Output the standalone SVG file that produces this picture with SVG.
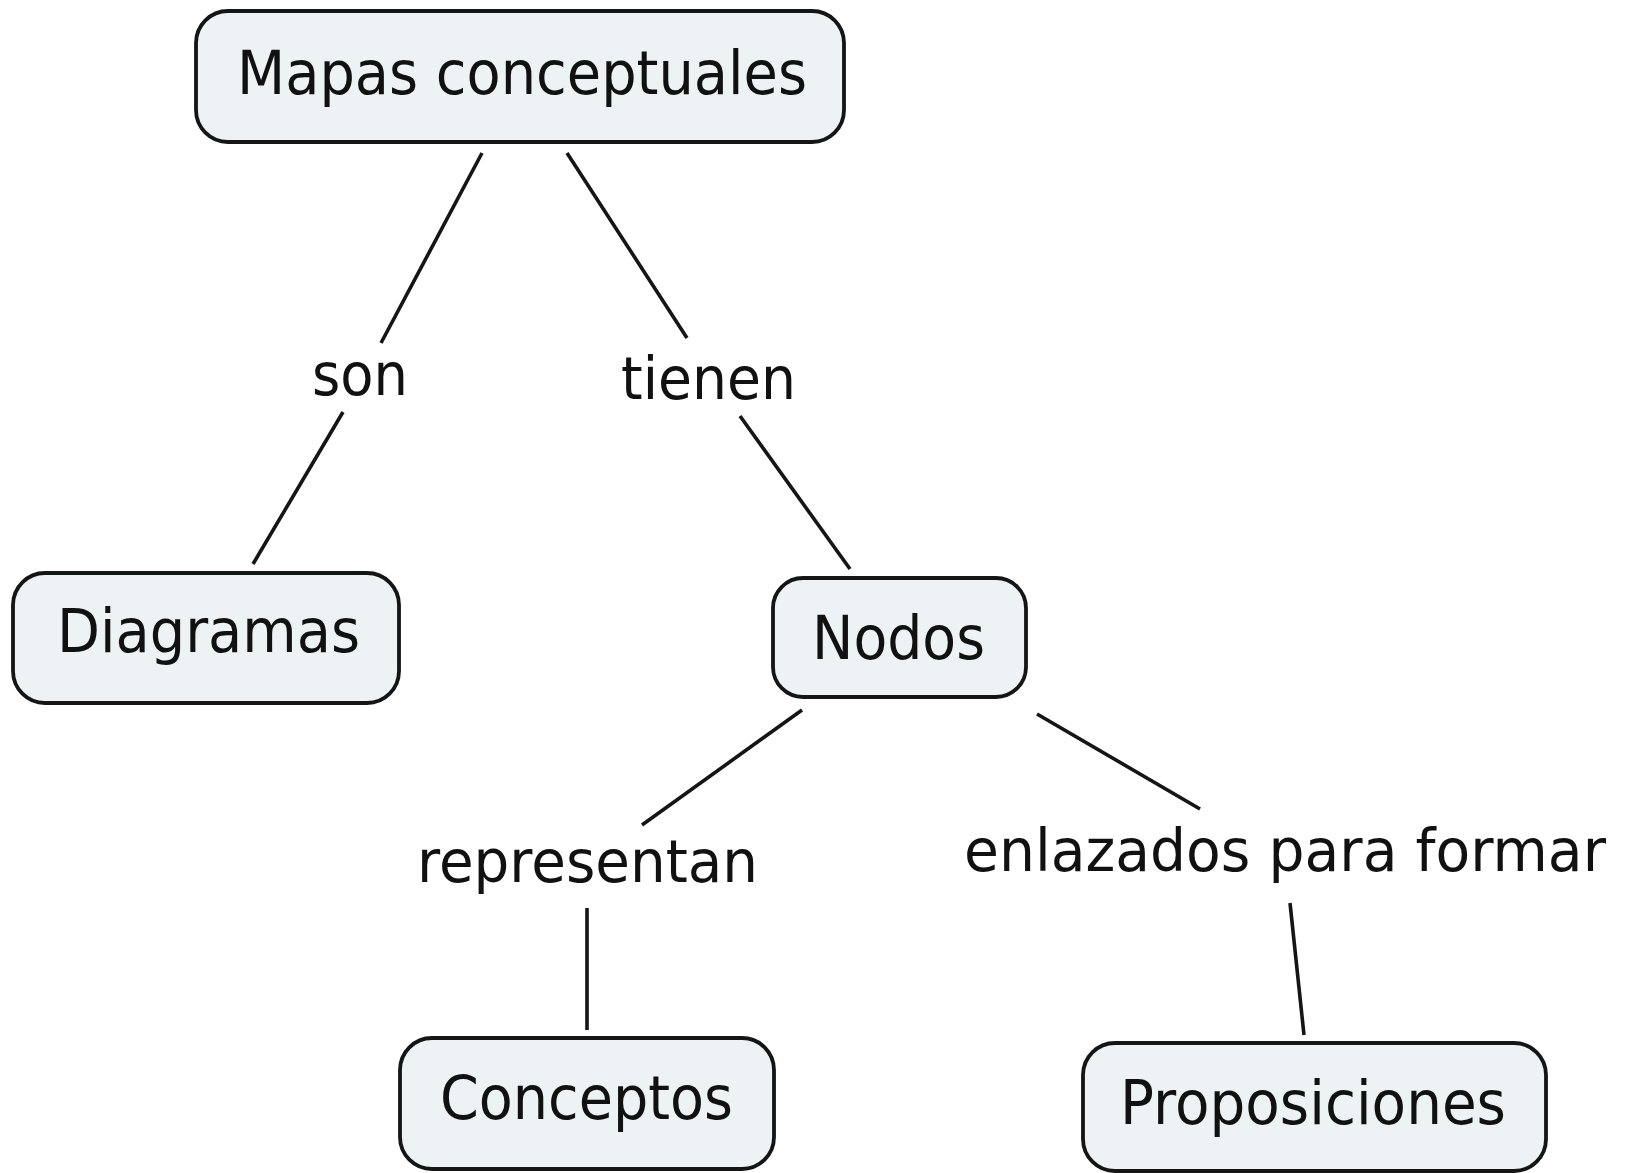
<svg xmlns="http://www.w3.org/2000/svg" width="1629" height="1173" viewBox="0 0 1629 1173">
<style>
.box{fill:#edf2f4;stroke:#151515;stroke-width:3.8}
.t{font-family:"DejaVu Sans",Verdana,sans-serif;font-size:60px;fill:#111}
.lbl{font-family:"DejaVu Sans",Verdana,sans-serif;font-size:58px;fill:#111}
.c line{stroke:#151515;stroke-width:3.6;stroke-linecap:butt}
</style>
<rect width="1629" height="1173" fill="#ffffff"/>
<g class="c" id="connectors">
<line x1="482" y1="153" x2="381" y2="343"/>
<line x1="343" y1="412" x2="253" y2="564"/>
<line x1="567" y1="153" x2="687" y2="338"/>
<line x1="740" y1="416" x2="850" y2="569"/>
<line x1="802" y1="710" x2="642" y2="825"/>
<line x1="587" y1="908" x2="587" y2="1030"/>
<line x1="1037" y1="714" x2="1200" y2="809"/>
<line x1="1290" y1="903" x2="1304" y2="1035"/>
</g>
<g id="mapas">
<rect class="box" x="196" y="11" width="648" height="131" rx="32"/>
<text class="t" x="237" y="94" textLength="570" lengthAdjust="spacingAndGlyphs">Mapas conceptuales</text>
</g>
<g id="diagramas">
<rect class="box" x="13" y="573" width="386" height="130" rx="32"/>
<text class="t" x="57" y="652" textLength="303" lengthAdjust="spacingAndGlyphs">Diagramas</text>
</g>
<g id="nodos">
<rect class="box" x="773" y="578" width="253" height="119" rx="30"/>
<text class="t" x="812" y="659" textLength="173" lengthAdjust="spacingAndGlyphs">Nodos</text>
</g>
<g id="conceptos">
<rect class="box" x="400" y="1038" width="374" height="131" rx="32"/>
<text class="t" x="440" y="1119" textLength="293" lengthAdjust="spacingAndGlyphs">Conceptos</text>
</g>
<g id="proposiciones">
<rect class="box" x="1083" y="1043" width="463" height="128" rx="32"/>
<text class="t" x="1120" y="1124" textLength="386" lengthAdjust="spacingAndGlyphs">Proposiciones</text>
</g>
<g id="labels">
<text class="lbl" x="312" y="395" textLength="96" lengthAdjust="spacingAndGlyphs">son</text>
<text class="lbl" x="621" y="399" textLength="175" lengthAdjust="spacingAndGlyphs">tienen</text>
<text class="lbl" x="417" y="882" textLength="341" lengthAdjust="spacingAndGlyphs">representan</text>
<text class="lbl" x="964" y="871" textLength="642" lengthAdjust="spacingAndGlyphs">enlazados para formar</text>
</g>
</svg>
